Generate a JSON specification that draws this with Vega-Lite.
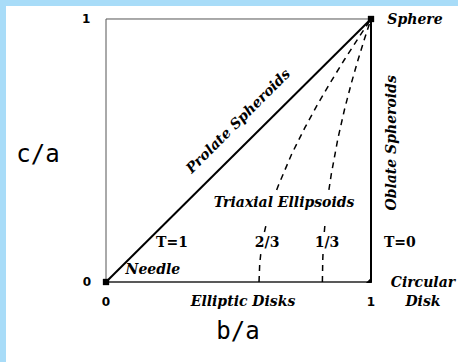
{
  "$schema": "https://vega.github.io/schema/vega-lite/v6.json",
  "width": 452,
  "height": 356,
  "autosize": {"type": "none"},
  "padding": {"left": 6, "top": 6, "right": 0, "bottom": 0},
  "background": "#a8dcf8",
  "config": {"view": {"stroke": null, "fill": "white"}},
  "datasets": {
    "thin": [
      {"edge": "left", "b": 0, "c": 0, "b2": 0, "c2": 1},
      {"edge": "top", "b": 0, "c": 1, "b2": 1, "c2": 1}
    ],
    "mid": [
      {"edge": "bottom", "b": 0, "c": 0, "b2": 1, "c2": 0}
    ],
    "thick": [
      {"edge": "oblate", "b": 1, "c": 0, "b2": 1, "c2": 1},
      {"edge": "prolate", "b": 0, "c": 0, "b2": 1, "c2": 1}
    ],
    "dashed": [
      {"seg": "t23a", "b": 1.0, "c": 1.0},
      {"seg": "t23a", "b": 0.95, "c": 0.924},
      {"seg": "t23a", "b": 0.9, "c": 0.846},
      {"seg": "t23a", "b": 0.85, "c": 0.764},
      {"seg": "t23a", "b": 0.8, "c": 0.678},
      {"seg": "t23a", "b": 0.75, "c": 0.586},
      {"seg": "t23a", "b": 0.7, "c": 0.485},
      {"seg": "t23a", "b": 0.65, "c": 0.366},
      {"seg": "t23a", "b": 0.644, "c": 0.35},
      {"seg": "t23b", "b": 0.6066, "c": 0.228},
      {"seg": "t23b", "b": 0.5978, "c": 0.19},
      {"seg": "t23c", "b": 0.5843, "c": 0.11},
      {"seg": "t23c", "b": 0.58, "c": 0.068},
      {"seg": "t23c", "b": 0.5774, "c": 0.0},
      {"seg": "t13a", "b": 1.0, "c": 1.0},
      {"seg": "t13a", "b": 0.975, "c": 0.923},
      {"seg": "t13a", "b": 0.95, "c": 0.841},
      {"seg": "t13a", "b": 0.925, "c": 0.753},
      {"seg": "t13a", "b": 0.9, "c": 0.656},
      {"seg": "t13a", "b": 0.875, "c": 0.545},
      {"seg": "t13a", "b": 0.85, "c": 0.409},
      {"seg": "t13a", "b": 0.8411, "c": 0.35},
      {"seg": "t13b", "b": 0.827, "c": 0.228},
      {"seg": "t13b", "b": 0.8238, "c": 0.19},
      {"seg": "t13c", "b": 0.819, "c": 0.11},
      {"seg": "t13c", "b": 0.818, "c": 0.086},
      {"seg": "t13c", "b": 0.8165, "c": 0.0}
    ],
    "corners": [
      {"name": "needle", "b": 0, "c": 0},
      {"name": "sphere", "b": 1, "c": 1}
    ],
    "cornerTri": [
      {"name": "disk", "b": 0.992, "c": 0.008}
    ],
    "italicLabels": [
      {"label": "Sphere", "b": 1.166, "c": 0.996},
      {"label": "Triaxial Ellipsoids", "b": 0.672, "c": 0.3},
      {"label": "Needle", "b": 0.177, "c": 0.046},
      {"label": "Circular", "b": 1.196, "c": -0.004},
      {"label": "Disk", "b": 1.196, "c": -0.076},
      {"label": "Elliptic Disks", "b": 0.517, "c": -0.076}
    ],
    "oblateLabel": [
      {"label": "Oblate Spheroids", "b": 1.079, "c": 0.529}
    ],
    "prolateLabel": [
      {"label": "Prolate Spheroids", "b": 0.5, "c": 0.61}
    ],
    "tLabels": [
      {"label": "T=1", "b": 0.249, "c": 0.148},
      {"label": "2/3", "b": 0.608, "c": 0.148},
      {"label": "1/3", "b": 0.834, "c": 0.148},
      {"label": "T=0", "b": 1.109, "c": 0.148}
    ],
    "ticks": [
      {"label": "0", "b": -0.072, "c": 0.0},
      {"label": "1", "b": -0.075, "c": 1.0},
      {"label": "0", "b": 0.0, "c": -0.076},
      {"label": "1", "b": 1.0, "c": -0.076}
    ],
    "titles": [
      {"label": "c/a", "b": -0.257, "c": 0.483},
      {"label": "b/a", "b": 0.498, "c": -0.19}
    ]
  },
  "encoding": {
    "x": {"field": "b", "type": "quantitative", "scale": {"domain": [-0.3774, 1.3283], "nice": false, "zero": false}, "axis": null},
    "y": {"field": "c", "type": "quantitative", "scale": {"domain": [-0.3042, 1.0494], "nice": false, "zero": false}, "axis": null}
  },
  "layer": [
    {
      "data": {"name": "thin"},
      "mark": {"type": "rule", "stroke": "#555555", "strokeWidth": 1},
      "encoding": {"x2": {"field": "b2"}, "y2": {"field": "c2"}}
    },
    {
      "data": {"name": "mid"},
      "mark": {"type": "rule", "stroke": "#222222", "strokeWidth": 1.5},
      "encoding": {"x2": {"field": "b2"}, "y2": {"field": "c2"}}
    },
    {
      "data": {"name": "thick"},
      "mark": {"type": "rule", "stroke": "black", "strokeWidth": 2},
      "encoding": {"x2": {"field": "b2"}, "y2": {"field": "c2"}}
    },
    {
      "data": {"name": "dashed"},
      "mark": {"type": "line", "stroke": "black", "strokeWidth": 1.5, "strokeDash": [6, 5], "interpolate": "linear"},
      "encoding": {"detail": {"field": "seg", "type": "nominal"}}
    },
    {
      "data": {"name": "corners"},
      "mark": {"type": "point", "shape": "square", "filled": true, "color": "black", "size": 40, "opacity": 1}
    },
    {
      "data": {"name": "cornerTri"},
      "mark": {"type": "point", "shape": "M1,-1L1,1L-1,1Z", "filled": true, "color": "black", "size": 36, "opacity": 1, "strokeWidth": 0}
    },
    {
      "data": {"name": "italicLabels"},
      "mark": {"type": "text", "font": "DejaVu Serif", "fontStyle": "italic", "fontWeight": "bold", "fontSize": 14, "baseline": "middle", "align": "center", "color": "black"},
      "encoding": {"text": {"field": "label"}}
    },
    {
      "data": {"name": "oblateLabel"},
      "mark": {"type": "text", "font": "DejaVu Serif", "fontStyle": "italic", "fontWeight": "bold", "fontSize": 14, "baseline": "middle", "align": "center", "angle": 270, "color": "black"},
      "encoding": {"text": {"field": "label"}}
    },
    {
      "data": {"name": "prolateLabel"},
      "mark": {"type": "text", "font": "DejaVu Serif", "fontStyle": "italic", "fontWeight": "bold", "fontSize": 14, "baseline": "middle", "align": "center", "angle": 315, "color": "black"},
      "encoding": {"text": {"field": "label"}}
    },
    {
      "data": {"name": "tLabels"},
      "mark": {"type": "text", "font": "DejaVu Serif", "fontWeight": "bold", "fontSize": 14, "baseline": "middle", "align": "center", "color": "black"},
      "encoding": {"text": {"field": "label"}}
    },
    {
      "data": {"name": "ticks"},
      "mark": {"type": "text", "font": "DejaVu Sans", "fontWeight": "bold", "fontSize": 12, "baseline": "middle", "align": "center", "color": "black"},
      "encoding": {"text": {"field": "label"}}
    },
    {
      "data": {"name": "titles"},
      "mark": {"type": "text", "font": "DejaVu Sans Mono", "fontSize": 24, "baseline": "middle", "align": "center", "color": "black"},
      "encoding": {"text": {"field": "label"}}
    }
  ]
}
